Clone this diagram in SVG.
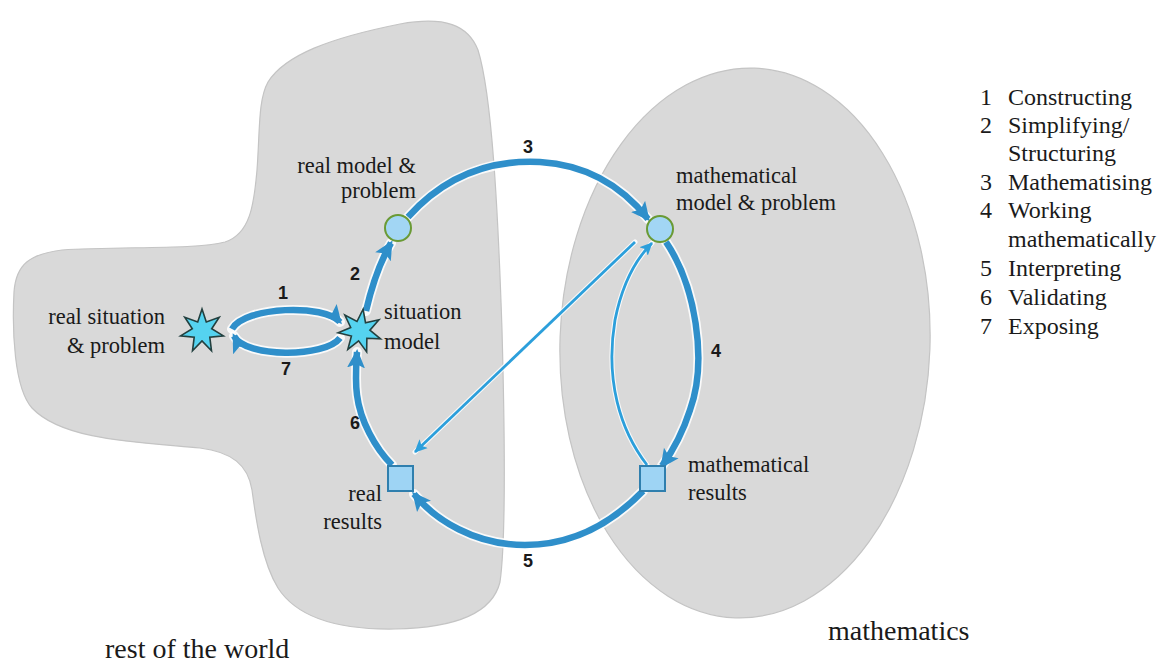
<svg xmlns="http://www.w3.org/2000/svg" xmlns:xlink="http://www.w3.org/1999/xlink" width="1158" height="667" viewBox="0 0 1158 667">
<style>
.blob{fill:#d9d9d9;stroke:#c4c4c4;stroke-width:1.2}
.lbl{font-family:"Liberation Serif","Times New Roman",serif;font-size:22.5px;fill:#1a1a1a}
.big{font-family:"Liberation Serif","Times New Roman",serif;font-size:28px;fill:#1a1a1a}
.num{font-family:"Liberation Sans",Arial,sans-serif;font-size:18px;fill:#1a1a1a;font-weight:bold}
.leg{font-family:"Liberation Serif","Times New Roman",serif;font-size:24px;fill:#1a1a1a}
.halo{fill:none;stroke:#ffffff;stroke-opacity:0.85;stroke-width:10;stroke-linecap:round}
.halo2{fill:none;stroke:#ffffff;stroke-opacity:0.85;stroke-width:5;stroke-linecap:round}
.thick{fill:none;stroke:#2f8fca;stroke-width:6.5;stroke-linecap:butt}
.thin{fill:none;stroke:#2c9fdb;stroke-width:2.8}
.star{fill:#55d3f0;stroke:#23403f;stroke-width:1.6;stroke-linejoin:miter}
.circ{fill:#a2d6f4;stroke:#6a9a35;stroke-width:2}
.sq{fill:#9ed4f4;stroke:#2f7fae;stroke-width:2}
</style>
<defs>
<marker id="ah" markerUnits="userSpaceOnUse" markerWidth="22" markerHeight="20" refX="16" refY="10" orient="auto">
<path d="M0,1 L19,10 L0,19 L4,10 Z" fill="#2f8fca"/>
</marker>
<marker id="at" markerUnits="userSpaceOnUse" markerWidth="16" markerHeight="14" refX="12" refY="7" orient="auto">
<path d="M0,1 L13,7 L0,13 L3,7 Z" fill="#2c9fdb"/>
</marker>
<polygon id="starshape" points="0,-22 4.3,-9 17.2,-13.7 9.7,-2.2 21.4,4.9 7.8,6.2 9.5,19.8 0,10 -9.5,19.8 -7.8,6.2 -21.4,4.9 -9.7,-2.2 -17.2,-13.7 -4.3,-9"/>
</defs>

<g id="world">
<path class="blob" d="M 268,82 C 285,55 330,38 400,24 C 445,16 468,25 478,50 C 492,95 498,210 502,330 C 505,440 506,540 500,582 C 492,615 450,628 395,629 C 335,630 296,616 278,588 C 262,562 256,520 252,490 C 248,465 232,452 200,448 C 135,442 62,440 32,408 C 14,388 12,330 14,292 C 16,264 30,254 62,250 C 120,246 195,250 225,242 C 250,234 254,205 257,170 C 260,130 258,100 268,82 Z"/>
<text class="big" x="105" y="658">rest of the world</text>
</g>
<g id="math">
<ellipse class="blob" cx="745" cy="343" rx="185" ry="275" transform="rotate(2 745 343)"/>
<text class="big" x="828" y="640">mathematics</text>
</g>

<g id="connectors">
<path class="halo" d="M 232,329 C 245,306 325,304 340,322"/>
<path class="halo" d="M 340,338 C 325,358 245,358 234,336"/>
<path class="halo" d="M 366,311 C 372,285 380,262 391,243"/>
<path class="halo" d="M 408,217 C 450,170 500,160 540,162 C 590,165 625,190 648,219"/>
<path class="halo" d="M 666,242 C 695,285 708,360 690,410 C 682,435 672,452 662,466"/>
<path class="halo" d="M 643,491 C 610,525 570,545 525,545 C 475,545 435,520 414,494"/>
<path class="halo" d="M 392,465 C 375,448 360,420 357,395 C 355,380 356,368 357,352"/>
<path class="halo2" d="M 635,242 L 415,452"/>
<path class="halo2" d="M 647,465 C 620,430 605,380 615,320 C 622,285 635,260 652,243"/>
<path id="c1" class="thick" marker-end="url(#ah)" d="M 232,329 C 245,306 325,304 340,322"/>
<path id="c7" class="thick" marker-end="url(#ah)" d="M 340,338 C 325,358 245,358 234,336"/>
<path id="c2" class="thick" marker-end="url(#ah)" d="M 366,311 C 372,285 380,262 391,243"/>
<path id="c3" class="thick" marker-end="url(#ah)" d="M 408,217 C 450,170 500,160 540,162 C 590,165 625,190 648,219"/>
<path id="c4" class="thick" marker-end="url(#ah)" d="M 666,242 C 695,285 708,360 690,410 C 682,435 672,452 662,466"/>
<path id="c5" class="thick" marker-end="url(#ah)" d="M 643,491 C 610,525 570,545 525,545 C 475,545 435,520 414,494"/>
<path id="c6" class="thick" marker-end="url(#ah)" d="M 392,465 C 375,448 360,420 357,395 C 355,380 356,368 357,352"/>
<path id="cthin1" class="thin" marker-end="url(#at)" d="M 635,242 L 415,452"/>
<path id="cthin2" class="thin" marker-end="url(#at)" d="M 647,465 C 620,430 605,380 615,320 C 622,285 635,260 652,243"/>
<text class="num" x="283" y="299" text-anchor="middle">1</text>
<text class="num" x="286" y="375" text-anchor="middle">7</text>
<text class="num" x="355" y="280" text-anchor="middle">2</text>
<text class="num" x="355" y="429" text-anchor="middle">6</text>
<text class="num" x="528" y="153" text-anchor="middle">3</text>
<text class="num" x="716" y="357" text-anchor="middle">4</text>
<text class="num" x="528" y="567" text-anchor="middle">5</text>
</g>

<g id="real-situation">
<use xlink:href="#starshape" class="star" transform="translate(202,331)"/>
<text class="lbl" x="165" y="324" text-anchor="end">real situation</text>
<text class="lbl" x="165" y="353" text-anchor="end">&amp; problem</text>
</g>
<g id="situation-model">
<use xlink:href="#starshape" class="star" transform="translate(360,331) rotate(8)"/>
<text class="lbl" x="384" y="319">situation</text>
<text class="lbl" x="384" y="349">model</text>
</g>
<g id="real-model">
<circle class="circ" cx="398" cy="228" r="13"/>
<text class="lbl" x="416" y="173" text-anchor="end">real model &amp;</text>
<text class="lbl" x="416" y="198" text-anchor="end">problem</text>
</g>
<g id="math-model">
<circle class="circ" cx="660" cy="229" r="13"/>
<text class="lbl" x="676" y="183">mathematical</text>
<text class="lbl" x="676" y="210">model &amp; problem</text>
</g>
<g id="real-results">
<rect class="sq" x="388" y="466" width="25" height="25"/>
<text class="lbl" x="382" y="501" text-anchor="end">real</text>
<text class="lbl" x="382" y="529" text-anchor="end">results</text>
</g>
<g id="math-results">
<rect class="sq" x="640" y="466" width="25" height="25"/>
<text class="lbl" x="688" y="472">mathematical</text>
<text class="lbl" x="688" y="500">results</text>
</g>

<g id="legend">
<text class="leg" x="980" y="105">1</text><text class="leg" x="1008" y="105">Constructing</text>
<text class="leg" x="980" y="133">2</text><text class="leg" x="1008" y="133">Simplifying/</text>
<text class="leg" x="1008" y="161">Structuring</text>
<text class="leg" x="980" y="190">3</text><text class="leg" x="1008" y="190">Mathematising</text>
<text class="leg" x="980" y="218">4</text><text class="leg" x="1008" y="218">Working</text>
<text class="leg" x="1008" y="247">mathematically</text>
<text class="leg" x="980" y="276">5</text><text class="leg" x="1008" y="276">Interpreting</text>
<text class="leg" x="980" y="305">6</text><text class="leg" x="1008" y="305">Validating</text>
<text class="leg" x="980" y="334">7</text><text class="leg" x="1008" y="334">Exposing</text>
</g>
</svg>
